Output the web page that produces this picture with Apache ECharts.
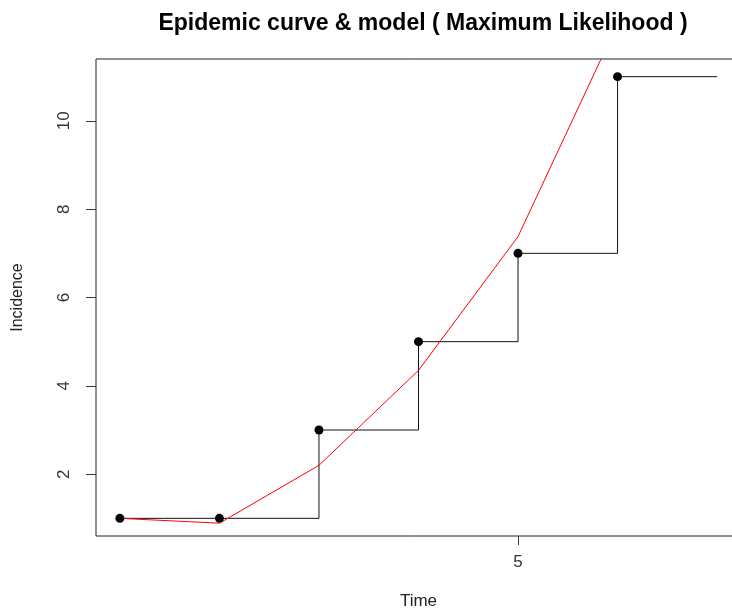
<!DOCTYPE html>
<html>
<head>
<meta charset="utf-8">
<script src="https://cdn.jsdelivr.net/npm/echarts@6/dist/echarts.min.js"></script>
<style>
html,body{margin:0;padding:0;background:#fff;}
#chart{width:732px;height:608px;}
</style>
</head>
<body>
<div id="chart"></div>
<script>
const times = [1, 2, 3, 4, 5, 6];
const incidence = [1, 1, 3, 5, 7, 11];
const stepEndTime = 7;
const modelML = [1.0, 0.89, 2.2, 4.35, 7.38, 12.2];
const xTicks = [5];
const yTicks = [2, 4, 6, 8, 10];

const stepData = times.map((t, i) => [t, incidence[i]]);
stepData.push([stepEndTime, incidence[incidence.length - 1]]);
const pointData = times.map((t, i) => [t, incidence[i]]);
const modelData = times.map((t, i) => [t, modelML[i]]);

const FONT = '"Liberation Sans", Arial, sans-serif';
const chart = echarts.init(document.getElementById('chart'), null, {renderer: 'canvas'});
chart.setOption({
  animation: false,
  backgroundColor: '#fff',
  title: {
    text: 'Epidemic curve & model ( Maximum Likelihood )',
    left: 418, top: 7, textAlign: 'center',
    textStyle: {fontFamily: FONT, fontSize: 23, fontWeight: 'bold', color: '#000'}
  },
  grid: {left: 96, right: -9, top: 59, bottom: 72, outerBoundsMode: 'none', containLabel: false,
         show: true, borderColor: '#222', borderWidth: 1, backgroundColor: 'transparent'},
  xAxis: {
    type: 'value', min: 0.76, max: 7.24,
    name: 'Time', nameLocation: 'middle', nameGap: 57,
    nameTextStyle: {fontFamily: FONT, fontSize: 17, color: '#222'},
    axisLine: {show: false},
    axisTick: {show: true, length: 9, lineStyle: {color: '#333'}, customValues: xTicks},
    axisLabel: {fontFamily: FONT, fontSize: 17, color: '#333', margin: 18, customValues: xTicks},
    splitLine: {show: false}
  },
  yAxis: {
    type: 'value', min: 0.6, max: 11.4,
    name: 'Incidence', nameLocation: 'middle', nameGap: 70, nameRotate: 90,
    nameTextStyle: {fontFamily: FONT, fontSize: 16, color: '#222'},
    axisLine: {show: false},
    axisTick: {show: true, length: 10, lineStyle: {color: '#333'}, customValues: yTicks},
    axisLabel: {fontFamily: FONT, fontSize: 17, color: '#333', margin: 23, rotate: 90, customValues: yTicks},
    splitLine: {show: false}
  },
  series: [
    {
      type: 'line', data: stepData, step: 'end', symbol: 'none',
      lineStyle: {color: '#111', width: 1}, z: 2
    },
    {
      type: 'line', data: modelData, symbol: 'none', smooth: false,
      lineStyle: {color: '#ff0000', width: 1}, z: 3
    },
    {
      type: 'scatter', data: pointData, symbol: 'circle', symbolSize: 9,
      itemStyle: {color: '#000', opacity: 1}, z: 4
    }
  ]
});
</script>
</body>
</html>
